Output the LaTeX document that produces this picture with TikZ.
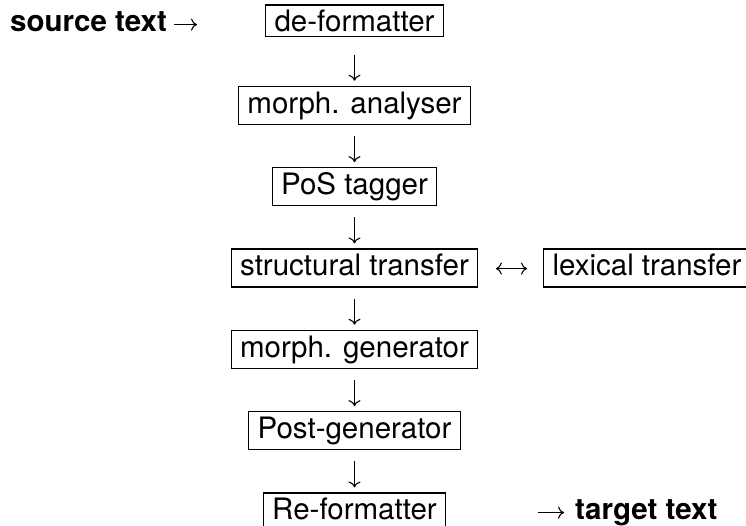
\documentclass[tikz,border=0pt]{standalone}
\usepackage{fontspec}
\setmainfont{TeX Gyre Heros}
\usetikzlibrary{arrows.meta}
\begin{document}
\begin{tikzpicture}[x=1pt,y=1pt,
  stage/.style={draw, line width=1.1pt, inner xsep=9pt, inner ysep=4.5pt,
    text height=22.5pt, text depth=6.5pt, anchor=base,
    font=\fontsize{29.5}{35}\selectfont},
  endlabel/.style={inner sep=0pt, font=\fontsize{29.5}{35}\selectfont\bfseries},
  cmtip/.tip={Computer Modern Rightarrow[length=6pt,width=12pt]},
  flow/.style={line width=1.1pt, -cmtip, shorten <=11pt, shorten >=5pt},
  both/.style={line width=1.1pt, cmtip-cmtip},
]
\useasboundingbox (0,0) rectangle (746,526);
\clip (0,0) rectangle (746,526);

% pipeline stages, placed by their baselines
\node[stage, text depth=0pt] (def) at (354.5,494) {de-formatter};
\node[stage] (ana) at (354.5,412.7) {morph. analyser};
\node[stage] (tag) at (354.5,331.3) {PoS tagger};
\node[stage] (str) at (354.5,250) {structural transfer};
\node[stage, anchor=base west] (lex) at (543,250) {lexical transfer};
\node[stage] (gen) at (354.5,168.7) {morph. generator};
\node[stage] (pos) at (354.5,87.3) {Post-generator};
\node[stage] (ref) at (354.5,6) {Re-formatter};

% input and output
\node[endlabel, anchor=base west] (src) at (10,494) {source text};
\node[endlabel, anchor=base west] (tgt) at (575,6) {target text};

% arrows between the stages
\draw[flow, shorten <=17.5pt] (def) -- (ana);
\draw[flow] (ana) -- (tag);
\draw[flow] (tag) -- (str);
\draw[flow] (str) -- (gen);
\draw[flow] (gen) -- (pos);
\draw[flow] (pos) -- (ref);

% horizontal arrows on the math axis
\draw[flow, shorten <=7pt, shorten >=68pt]
  ([yshift=7.4pt]src.base east) -- ([yshift=7.4pt]src.base east -| def.west);
\draw[both, shorten <=17.5pt, shorten >=16pt]
  ([yshift=7.4pt]str.base east) -- ([yshift=7.4pt]str.base east -| lex.west);
\draw[flow, shorten <=92pt, shorten >=11pt]
  ([yshift=7.4pt]ref.base east) -- ([yshift=7.4pt]ref.base east -| tgt.west);
\end{tikzpicture}
\end{document}
